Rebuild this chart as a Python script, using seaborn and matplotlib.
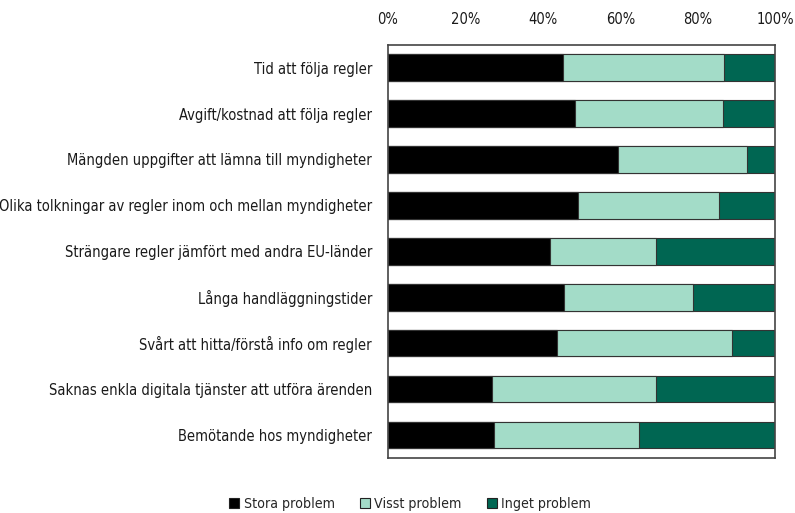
import numpy as np
import pandas as pd
import matplotlib
matplotlib.use('Agg')
import matplotlib.pyplot as plt
import seaborn as sns
from matplotlib.patches import Patch
from matplotlib.ticker import PercentFormatter

categories = [
    'Tid att följa regler',
    'Avgift/kostnad att följa regler',
    'Mängden uppgifter att lämna till myndigheter',
    'Olika tolkningar av regler inom och mellan myndigheter',
    'Strängare regler jämfört med andra EU-länder',
    'Långa handläggningstider',
    'Svårt att hitta/förstå info om regler',
    'Saknas enkla digitala tjänster att utföra ärenden',
    'Bemötande hos myndigheter',
]
stora = [45.3, 48.4, 59.5, 49.0, 41.9, 45.4, 43.7, 26.8, 27.4]
visst = [41.4, 38.1, 33.2, 36.5, 27.4, 33.5, 45.1, 42.4, 37.5]
inget = [13.3, 13.5, 7.3, 14.5, 30.7, 21.1, 11.2, 30.8, 35.1]
series = ['Stora problem', 'Visst problem', 'Inget problem']
colors = ['#000000', '#a3dcc8', '#006652']

df = pd.DataFrame({'kategori': categories, 'stora': stora, 'visst': visst, 'inget': inget})
df['c1'] = df['stora']
df['c2'] = df['stora'] + df['visst']
df['c3'] = df['c2'] + df['inget']

sns.set_style('white')
plt.rcParams['font.family'] = ['DejaVu Sans']
plt.rcParams['font.stretch'] = 'condensed'

fig = plt.figure(figsize=(7.95, 5.13), dpi=100)
ax = fig.add_axes([0.488, 0.107, 0.487, 0.806])

# stacked bars: draw cumulative totals, largest first
for col, c in zip(['c3', 'c2', 'c1'], colors[::-1]):
    sns.barplot(data=df, x=col, y='kategori', color=c, orient='h', width=0.575,
                edgecolor='#333333', linewidth=0.8, ax=ax, saturation=1)

ax.set_xlim(0, 100)
ax.set_ylim(8.5, -0.5)
ax.set_xticks([0, 20, 40, 60, 80, 100])
ax.xaxis.set_major_formatter(PercentFormatter(decimals=0))
ax.xaxis.tick_top()
ax.tick_params(axis='x', length=0, pad=13, labelsize=10.5, colors='#1a1a1a')
ax.tick_params(axis='y', length=0, pad=11.5, labelsize=10.5, colors='#1a1a1a')
ax.set_xlabel('')
ax.set_ylabel('')
for s in ax.spines.values():
    s.set_visible(True)
    s.set_color('#444444')
    s.set_linewidth(1.2)

handles = [Patch(facecolor=c, edgecolor='#222222', linewidth=0.8, label=l)
           for c, l in zip(colors, series)]
fig.legend(handles=handles, loc='lower center', bbox_to_anchor=(0.516, -0.02), ncol=3,
           frameon=False, fontsize=10.2, handlelength=0.7, handleheight=0.7,
           handletextpad=0.3, columnspacing=1.8)

fig.savefig('out.png', dpi=100)
